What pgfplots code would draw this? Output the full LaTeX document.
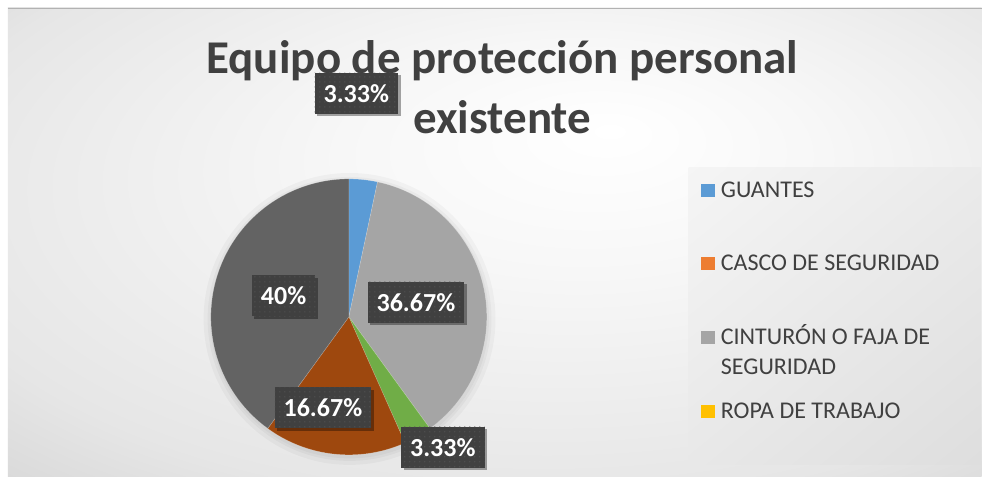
\documentclass[border=0pt]{standalone}
\usepackage{pgfplots}
\pgfplotsset{compat=1.18}
\usepackage{pgfplotstable}
\usepackage{fontspec}
\setmainfont{Carlito}
\usetikzlibrary{shadows,shadings,patterns.meta}

\definecolor{cBlue}{HTML}{5B9BD5}
\definecolor{cOrange}{HTML}{ED7D31}
\definecolor{cLGray}{HTML}{A5A5A5}
\definecolor{cYellow}{HTML}{FFC000}
\definecolor{cGreen}{HTML}{70AD47}
\definecolor{cDOrange}{HTML}{9E480E}
\definecolor{cDGray}{HTML}{636363}
\definecolor{txt}{HTML}{404040}
\definecolor{lblbg}{HTML}{404040}
\definecolor{bgedge}{HTML}{C4C4C4}
\definecolor{bgmid}{HTML}{E6E6E6}

\pgfdeclareradialshading{chartbg}{\pgfpoint{6bp}{12bp}}{%
  color(0bp)=(white); color(12bp)=(white!97!black); color(32bp)=(bgmid); color(50bp)=(bgedge)}

\tikzset{
  lbl/.style={fill=lblbg, text=white,
    font=\fontsize{26bp}{30bp}\selectfont\bfseries,
    inner xsep=9bp, inner ysep=0pt, minimum height=41bp,
    postaction={pattern={Dots[distance=5bp,radius=0.6bp]}, pattern color=black!64},
    drop shadow={shadow xshift=2.5bp, shadow yshift=-2.5bp, opacity=0.35, fill=black}},
}

% slices in clockwise order from 12 o'clock; lx, ly = label centre (axis units)
\pgfplotstableread{
key      value  lx      ly      color
guantes   3.33   0.054   1.620  cBlue
cinturon 36.67   0.486   0.105  cLGray
s6        3.33   0.681  -0.946  cGreen
s8       16.67  -0.188  -0.659  cDOrange
s9       40.00  -0.473   0.152  cDGray
}\piedata

\begin{document}
\begin{tikzpicture}[x=1bp,y=1bp]
% chart area
\fill[white] (0,0) rectangle (982,477);
\shade[shading=chartbg] (8,0) rectangle (982,469);
\draw[black!30, line width=0.8bp] (8,469) -- (982,469);

% legend panel
\shade[upper left=black!4, upper right=black!8, lower left=black!9, lower right=black!13]
  (689,12) rectangle (981,309);

% title
\begin{scope}[font=\fontsize{47bp}{60bp}\selectfont\bfseries, text=txt]
\node[anchor=base, inner sep=0pt] at (502.5,403) {Equipo de protección personal};
\node[anchor=base, inner sep=0pt] at (502.5,343) {existente};
\end{scope}

\begin{axis}[
  at={(211bp,22bp)}, anchor=south west,
  scale only axis, width=276bp, height=276bp,
  xmin=-1, xmax=1, ymin=-1, ymax=1,
  hide axis, clip=false,
]
% soft shadow under the pie
\fill[black, opacity=0.03] (axis cs:0.005,-0.015) circle[radius=146bp];
\fill[black, opacity=0.03] (axis cs:0.005,-0.015) circle[radius=142bp];
\fill[black, opacity=0.03] (axis cs:0.005,-0.015) circle[radius=139.5bp];

\pgfplotstablegetrowsof{\piedata}
\pgfmathtruncatemacro\lastrow{\pgfplotsretval-1}
\xdef\cum{0}
\pgfplotsinvokeforeach{0,...,\lastrow}{
  \pgfplotstablegetelem{#1}{value}\of\piedata \let\val\pgfplotsretval
  \pgfplotstablegetelem{#1}{color}\of\piedata \let\col\pgfplotsretval
  \pgfmathsetmacro\aend{90-3.6*\cum}
  \pgfmathsetmacro\cumnew{\cum+\val}
  \pgfmathsetmacro\astart{90-3.6*\cumnew}
  \xdef\cum{\cumnew}
  \edef\doslice{\noexpand\addplot[fill=\col, draw=white, draw opacity=0.25,
      line width=0.5bp, domain=\astart:\aend, samples=90]
      ({cos(x)},{sin(x)}) -- (axis cs:0,0) -- cycle;}
  \doslice
}
% value labels
\pgfplotsinvokeforeach{0,...,\lastrow}{
  \pgfplotstablegetelem{#1}{value}\of\piedata \let\val\pgfplotsretval
  \pgfplotstablegetelem{#1}{lx}\of\piedata \let\lx\pgfplotsretval
  \pgfplotstablegetelem{#1}{ly}\of\piedata \let\ly\pgfplotsretval
  \edef\dolabel{\noexpand\node[lbl] at (axis cs:\lx,\ly)
    {\noexpand\pgfmathprintnumber[fixed,precision=2,assume math mode=true]{\val}\noexpand\%};}
  \dolabel
}
\end{axis}

% legend
\begin{scope}[font=\fontsize{24bp}{30bp}\selectfont, text=txt]
\fill[cBlue]   (701,279.5) rectangle ++(14,13.5);
\fill[cOrange] (701,206.5) rectangle ++(14,13.5);
\fill[cLGray]  (701,132.5) rectangle ++(14,13.5);
\fill[cYellow] (701,58.5)  rectangle ++(14,13.5);
\node[anchor=base west, inner sep=0pt] at (721,279) {GUANTES};
\node[anchor=base west, inner sep=0pt] at (721,206) {CASCO DE SEGURIDAD};
\node[anchor=base west, inner sep=0pt] at (721,132) {CINTURÓN O FAJA DE};
\node[anchor=base west, inner sep=0pt] at (721,102) {SEGURIDAD};
\node[anchor=base west, inner sep=0pt] at (721,58)  {ROPA DE TRABAJO};
\end{scope}
\end{tikzpicture}
\end{document}
